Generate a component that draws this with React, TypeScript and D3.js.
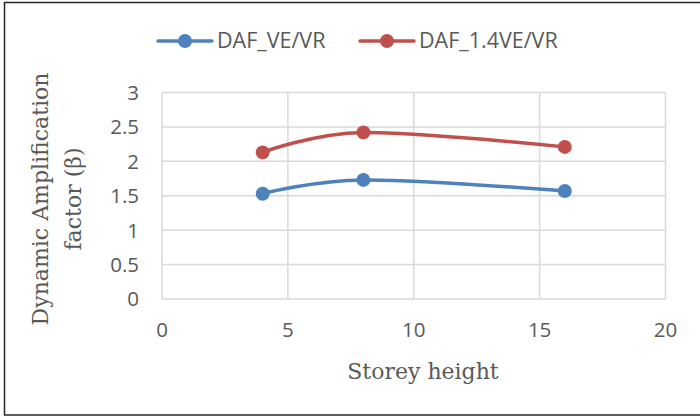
import React, { useEffect, useRef } from 'react'
import * as d3 from 'd3'

const storeyHeight = [4, 8, 16]
const dafVE = [1.53, 1.73, 1.57]
const daf14VE = [2.13, 2.42, 2.21]
const seriesNames = ['DAF_VE/VR', 'DAF_1.4VE/VR']
const seriesColors = ['#4F81BD', '#C0504D']
const xTicks = [0, 5, 10, 15, 20]
const yTicks = [0, 0.5, 1, 1.5, 2, 2.5, 3]

export default function App() {
    const ref = useRef<SVGSVGElement>(null)

    useEffect(() => {
        const svg = d3.select(ref.current)
        svg.selectAll('*').remove()

        const x = d3.scaleLinear().domain([0, 20]).range([162, 665.5])
        const y = d3.scaleLinear().domain([0, 3]).range([299, 92.5])
        const tickFont = '"Open Sans", "Noto Sans", sans-serif'
        const titleFont = '"DejaVu Serif", serif'

        // chart frame
        svg.append('rect')
            .attr('x', 4.5).attr('y', 2.5)
            .attr('width', 720).attr('height', 412.5)
            .attr('fill', '#fff')
            .attr('stroke', '#262626')
            .attr('stroke-width', 1.5)

        // gridlines
        svg.append('g').selectAll('line').data(yTicks).join('line')
            .attr('x1', x(0)).attr('x2', x(20))
            .attr('y1', d => y(d)).attr('y2', d => y(d))
            .attr('stroke', '#d9d9d9').attr('stroke-width', 1.5)
        svg.append('g').selectAll('line').data(xTicks).join('line')
            .attr('x1', d => x(d)).attr('x2', d => x(d))
            .attr('y1', y(0)).attr('y2', y(3))
            .attr('stroke', '#d9d9d9').attr('stroke-width', 1.5)

        // tick labels
        svg.append('g').selectAll('text').data(yTicks).join('text')
            .attr('x', 139).attr('y', d => y(d)).attr('dy', '0.36em')
            .attr('text-anchor', 'end')
            .style('font', '20.5px ' + tickFont).attr('fill', '#595959')
            .text(d => d)
        svg.append('g').selectAll('text').data(xTicks).join('text')
            .attr('x', d => x(d)).attr('y', 337)
            .attr('text-anchor', 'middle')
            .style('font', '20.5px ' + tickFont).attr('fill', '#595959')
            .text(d => d)

        // axis titles
        svg.append('text')
            .attr('x', 423).attr('y', 379)
            .attr('text-anchor', 'middle')
            .style('font', '22px ' + titleFont).attr('fill', '#595959')
            .text('Storey height')
        const yt = svg.append('text')
            .attr('transform', 'translate(0,199) rotate(-90)')
            .attr('text-anchor', 'middle')
            .style('font', '22px ' + titleFont).attr('fill', '#595959')
        yt.append('tspan').attr('x', 0).attr('y', 48).text('Dynamic Amplification')
        yt.append('tspan').attr('x', 0).attr('y', 81).text('factor (β)')

        // series
        const line = d3.line<number>()
            .x((_, i) => x(storeyHeight[i]))
            .y(d => y(d))
            .curve(d3.curveCatmullRom.alpha(0))
        const series = [dafVE, daf14VE]
        series.forEach((vals, s) => {
            svg.append('path')
                .attr('d', line(vals))
                .attr('fill', 'none')
                .attr('stroke', seriesColors[s])
                .attr('stroke-width', 3.5)
                .attr('stroke-linecap', 'round')
            svg.append('g').selectAll('circle').data(vals).join('circle')
                .attr('cx', (_, i) => x(storeyHeight[i]))
                .attr('cy', d => y(d))
                .attr('r', 7)
                .attr('fill', seriesColors[s])
        })

        // legend
        const legendX = [158, 360]
        seriesNames.forEach((name, s) => {
            const g = svg.append('g').attr('transform', 'translate(' + legendX[s] + ',41)')
            g.append('line').attr('x1', 0).attr('x2', 54).attr('y1', 0).attr('y2', 0)
                .attr('stroke', seriesColors[s]).attr('stroke-width', 3.5)
                .attr('stroke-linecap', 'round')
            g.append('circle').attr('cx', 27).attr('cy', 0).attr('r', 7)
                .attr('fill', seriesColors[s])
            g.append('text').attr('x', 59).attr('y', 7)
                .style('font', '21.5px ' + tickFont).attr('fill', '#595959')
                .text(name)
        })
    }, [])

    return (
        <svg ref={ref} width={700} height={416}
            style={{ position: 'absolute', left: 0, top: 0, display: 'block' }} />
    )
}
